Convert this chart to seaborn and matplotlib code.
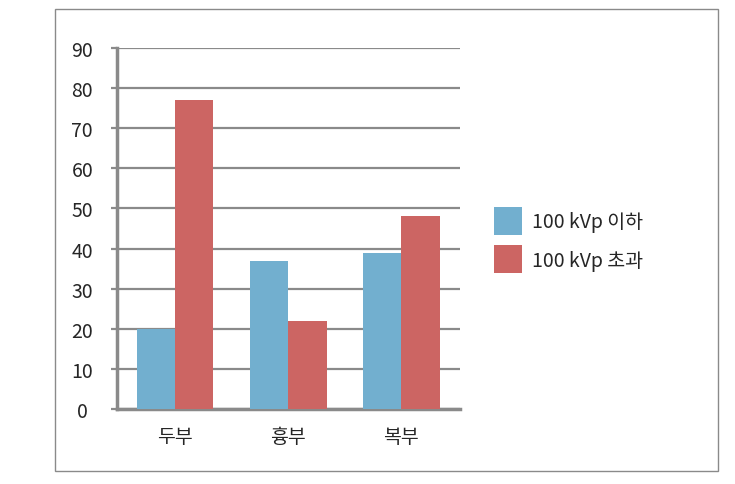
import matplotlib
matplotlib.use("Agg")
import matplotlib.pyplot as plt
import seaborn as sns
import pandas as pd
from matplotlib.patches import Rectangle

categories = ["두부", "흉부", "복부"]
series_names = ["100 kVp 이하", "100 kVp 초과"]
low_values = [20, 37, 39]
high_values = [77, 22, 48]
yticks = [0, 10, 20, 30, 40, 50, 60, 70, 80, 90]
colors = ["#72AFCF", "#CC6563"]

df = pd.DataFrame({
    "cat": categories * 2,
    "series": [series_names[0]] * 3 + [series_names[1]] * 3,
    "val": low_values + high_values,
})

sns.set_style("white")
plt.rcParams["font.family"] = ["Noto Sans CJK KR", "DejaVu Sans"]

fig = plt.figure(figsize=(7.35, 4.85), dpi=100)
ax = fig.add_axes([117/735, 1-410/485, (460-117)/735, (410-49)/485])

sns.barplot(data=df, x="cat", y="val", hue="series", palette=colors,
            width=0.68, saturation=1, ax=ax, zorder=3, linewidth=0)

ax.set_ylim(0, 90)
ax.set_xlim(-0.513, 2.52)
ax.set_yticks(yticks)
ax.set_xlabel("")
ax.set_ylabel("")
ax.yaxis.grid(True, color="#8a8a8a", linewidth=1.6, zorder=0)
ax.set_axisbelow(True)
for s in ["top", "right"]:
    ax.spines[s].set_visible(False)
ax.spines["left"].set_color("#8a8a8a")
ax.spines["left"].set_linewidth(2.5)
ax.spines["bottom"].set_color("#8a8a8a")
ax.spines["bottom"].set_linewidth(2.5)
ax.tick_params(axis="y", length=4, width=1.6, color="#8a8a8a", labelsize=14, left=True)
ax.tick_params(axis="x", length=0, labelsize=14, pad=12)
for lab in ax.get_yticklabels():
    lab.set_horizontalalignment("center")
ax.yaxis.set_tick_params(pad=21)

handles, labels = ax.get_legend_handles_labels()
ax.legend_.remove()
fig.legend(handles, labels, loc="center left", bbox_to_anchor=(476/735, 1-241/485),
           frameon=False, fontsize=14, handlelength=1.45, handleheight=1.85,
           handletextpad=0.55, labelspacing=0.55)

fig.patches.append(Rectangle((55/735, 1-472/485), (718-55)/735, (472-10)/485,
                             transform=fig.transFigure, fill=False,
                             edgecolor="#8a8a8a", linewidth=1.0))

fig.savefig("out.png", dpi=100)
